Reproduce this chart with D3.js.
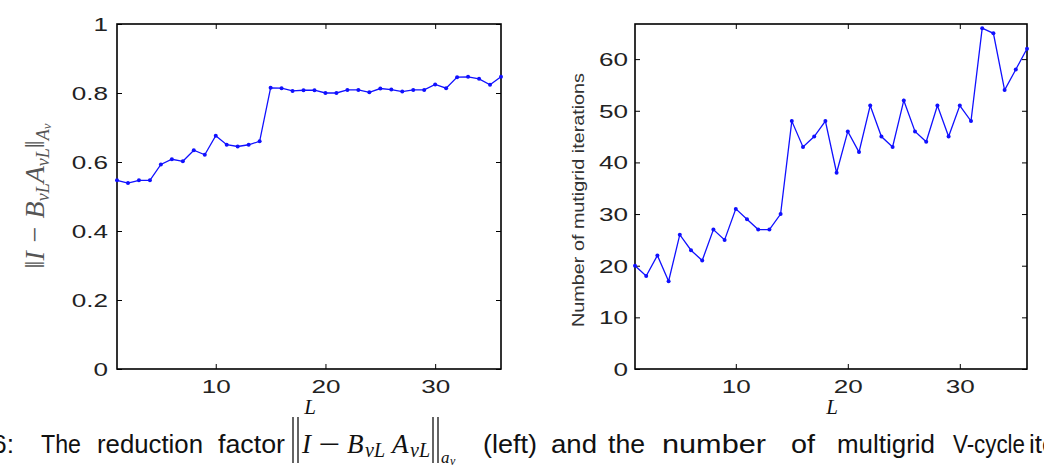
<!DOCTYPE html>
<html>
<head>
<meta charset="utf-8">
<script src="https://cdn.jsdelivr.net/npm/d3@7"></script>
<style>
    body { margin: 0; background: #fff; }
    svg { display: block; }
    .tick line { stroke: #000; }
    .tick text { font-family: "Liberation Sans", Arial, sans-serif; font-size: 18px; fill: #222; }
    .caption { font-family: "Liberation Sans", Arial, sans-serif; font-size: 25px; fill: #111; }
    .math { font-family: "Liberation Serif", "Times New Roman", serif; font-style: italic; }
</style>
</head>
<body>
<div id="chart"></div>
<script>
// refinement level L
const levels = [1, 2, 3, 4, 5, 6, 7, 8, 9, 10, 11, 12, 13, 14, 15, 16, 17, 18,
    19, 20, 21, 22, 23, 24, 25, 26, 27, 28, 29, 30, 31, 32, 33, 34, 35, 36];

// left panel: reduction factor ||I - B A||
const reductionFactor = [0.547, 0.539, 0.547, 0.547, 0.593, 0.608, 0.602, 0.634, 0.621, 0.676,
    0.650, 0.645, 0.650, 0.660, 0.815, 0.814, 0.806, 0.808, 0.808, 0.800,
    0.800, 0.809, 0.809, 0.802, 0.813, 0.810, 0.804, 0.809, 0.809, 0.825,
    0.814, 0.846, 0.847, 0.841, 0.824, 0.847];

// right panel: number of multigrid iterations
const iterations = [20, 18, 22, 17, 26, 23, 21, 27, 25, 31, 29, 27, 27, 30, 48, 43, 45, 48,
    38, 46, 42, 51, 45, 43, 52, 46, 44, 51, 45, 51, 48, 66, 65, 54, 58, 62];

// tick values
const xTicks = [10, 20, 30];
const leftYTicks = [0, 0.2, 0.4, 0.6, 0.8, 1];
const rightYTicks = [0, 10, 20, 30, 40, 50, 60];

const svg = d3.select("#chart").append("svg")
    .attr("width", 1044)
    .attr("height", 465);

class Panel {

    constructor(svg, opts) {
        this.svg = svg;
        this.opts = opts;
        this.initVis();
    }

    initVis() {
        let vis = this;
        let o = vis.opts;

        vis.width = o.width;
        vis.height = o.height;
        vis.g = vis.svg.append("g")
            .attr("transform", "translate(" + o.left + "," + o.top + ")");

        // scales
        vis.x = d3.scaleLinear().domain([1, 36]).range([0, vis.width]);
        vis.y = d3.scaleLinear().domain(o.yDomain).range([vis.height, 0]);

        // stretched tick labels like the exported figure
        const sx = 1.45;

        // bottom + top axes, ticks pointing inward
        let xb = vis.g.append("g")
            .attr("transform", "translate(0," + vis.height + ")")
            .call(d3.axisBottom(vis.x).tickValues(xTicks).tickSizeInner(-5).tickSizeOuter(0).tickPadding(0));
        xb.selectAll("text").attr("y", 24).attr("dy", 0).attr("transform", `scale(${sx},1)`);

        vis.g.append("g")
            .call(d3.axisTop(vis.x).tickValues(xTicks).tickSizeInner(-5).tickSizeOuter(0).tickFormat(""));

        // left + right axes
        let yl = vis.g.append("g")
            .call(d3.axisLeft(vis.y).tickValues(o.yTicks).tickSizeInner(-5).tickSizeOuter(0).tickFormat(o.yFormat));
        yl.selectAll("text").attr("x", -o.labelGap / sx).attr("dy", "0.35em").attr("transform", `scale(${sx},1)`);

        vis.g.append("g")
            .attr("transform", "translate(" + vis.width + ",0)")
            .call(d3.axisRight(vis.y).tickValues(o.yTicks).tickSizeInner(-5).tickSizeOuter(0).tickFormat(""));

        vis.g.selectAll(".domain").remove();

        // frame
        vis.g.append("rect")
            .attr("width", vis.width)
            .attr("height", vis.height)
            .attr("fill", "none")
            .attr("stroke", "#000")
            .attr("stroke-width", 1.6);

        // x label
        vis.g.append("text")
            .attr("class", "math")
            .attr("x", vis.x(o.xLabelAt))
            .attr("y", vis.height + 45)
            .attr("text-anchor", "middle")
            .attr("font-size", 21)
            .attr("fill", "#111")
            .text("L");

        vis.updateVis();
    }

    updateVis() {
        let vis = this;
        let data = levels.map((l, i) => ({L: l, v: vis.opts.values[i]}));

        let line = d3.line()
            .x(d => vis.x(d.L))
            .y(d => vis.y(d.v));

        vis.g.append("path")
            .datum(data)
            .attr("d", line)
            .attr("fill", "none")
            .attr("stroke", "#1010ff")
            .attr("stroke-width", 1.3);

        vis.g.selectAll(".dot")
            .data(data)
            .enter().append("circle")
            .attr("class", "dot")
            .attr("cx", d => vis.x(d.L))
            .attr("cy", d => vis.y(d.v))
            .attr("r", 2)
            .attr("fill", "#1010ff");
    }
}

const leftPanel = new Panel(svg, {
    left: 117, top: 24, width: 384, height: 345,
    yDomain: [0, 1], yTicks: leftYTicks, yFormat: d => d === 0 || d === 1 ? d : d.toFixed(1),
    labelGap: 9, values: reductionFactor, xLabelAt: 18.6
});

const rightPanel = new Panel(svg, {
    left: 635, top: 24, width: 392, height: 345,
    yDomain: [0, 66.8], yTicks: rightYTicks, yFormat: d => d,
    labelGap: 7, values: iterations, xLabelAt: 18.6
});

// y label of left panel (rotated math)
let ll = svg.append("text")
    .attr("class", "math")
    .attr("transform", "translate(44,196) rotate(-90)")
    .attr("text-anchor", "middle")
    .attr("font-size", 28)
    .attr("fill", "#555");
ll.append("tspan").attr("font-style", "normal").text("‖");
ll.append("tspan").text("I − B");
ll.append("tspan").attr("font-size", 18).attr("dy", 5).text("vL");
ll.append("tspan").attr("dy", -5).text("A");
ll.append("tspan").attr("font-size", 18).attr("dy", 5).text("vL");
ll.append("tspan").attr("dy", -5).attr("font-style", "normal").text("‖");
ll.append("tspan").attr("font-size", 18).attr("dy", 5).text("A");
ll.append("tspan").attr("font-size", 13).attr("dy", 2).text("v");

// y label of right panel
svg.append("text")
    .attr("transform", "translate(584,200) rotate(-90)")
    .attr("text-anchor", "middle")
    .attr("font-family", "Liberation Sans, Arial, sans-serif")
    .attr("font-size", 16)
    .attr("fill", "#333")
    .attr("textLength", 254)
    .attr("lengthAdjust", "spacingAndGlyphs")
    .text("Number of mutigrid iterations");

// caption (cut off at both sides, like the page it came from)
const capY = 453;
const capWords = [
    {t: "6:", x: -8, w: 22},
    {t: "The", x: 41, w: 40},
    {t: "reduction", x: 97, w: 106},
    {t: "factor", x: 218, w: 67},
    {t: "(left)", x: 483, w: 54},
    {t: "and", x: 551, w: 46},
    {t: "the", x: 608, w: 37},
    {t: "number", x: 662, w: 104},
    {t: "of", x: 791, w: 24},
    {t: "multigrid", x: 837, w: 98},
    {t: "V-cycle", x: 953, w: 72},
    {t: "iterations", x: 1029, w: 105}
];
svg.selectAll(".capword")
    .data(capWords)
    .enter().append("text")
    .attr("class", "caption")
    .attr("x", d => d.x)
    .attr("y", capY)
    .attr("textLength", d => d.w)
    .attr("lengthAdjust", "spacingAndGlyphs")
    .text(d => d.t);

// norm bars of the caption formula
const bars = [293, 298, 433, 438];
svg.selectAll(".bar")
    .data(bars)
    .enter().append("line")
    .attr("x1", d => d).attr("x2", d => d)
    .attr("y1", 417).attr("y2", 463)
    .attr("stroke", "#111")
    .attr("stroke-width", 1.3);

// formula pieces between the bars
const capMath = [
    {t: "I", x: 302, size: 27, y: capY, italic: true},
    {t: "−", x: 316, size: 27, y: capY, italic: false, w: 26},
    {t: "B", x: 347, size: 27, y: capY, italic: true},
    {t: "νL", x: 365, size: 20, y: capY + 4, italic: true},
    {t: "A", x: 392, size: 27, y: capY, italic: true},
    {t: "νL", x: 410, size: 20, y: capY + 4, italic: true},
    {t: "a", x: 441, size: 17, y: capY + 10, italic: true},
    {t: "ν", x: 450, size: 12, y: capY + 12, italic: true}
];
svg.selectAll(".capmath")
    .data(capMath)
    .enter().append("text")
    .attr("class", "math")
    .attr("x", d => d.x)
    .attr("y", d => d.y)
    .attr("font-size", d => d.size)
    .attr("font-style", d => d.italic ? "italic" : "normal")
    .attr("textLength", d => d.w ? d.w : null)
    .attr("lengthAdjust", "spacingAndGlyphs")
    .attr("fill", "#111")
    .text(d => d.t);
</script>
</body>
</html>
